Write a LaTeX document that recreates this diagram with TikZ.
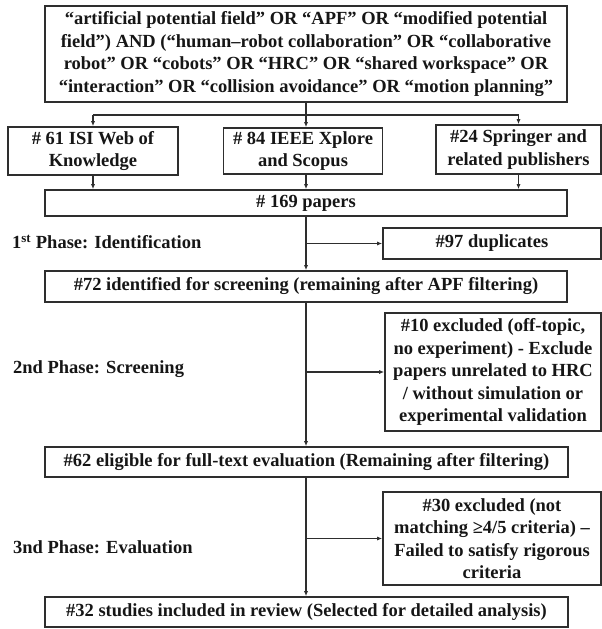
\documentclass[tikz,border=0pt]{standalone}
\usepackage{fontspec}
\setmainfont{Liberation Serif}
\usetikzlibrary{arrows.meta}
\definecolor{edgegray}{HTML}{2E2E2E}
\definecolor{inkdark}{HTML}{161616}
\newcommand\flowfont{\fontsize{18.5}{22.5}\selectfont\bfseries}
\begin{document}
\begin{tikzpicture}[x=1pt,y=-1pt,
  box/.style={draw=edgegray, line width=1.6pt, inner sep=0pt, align=center,
    font=\flowfont, text=inkdark},
  phase/.style={anchor=west, inner sep=0pt, font=\flowfont, text=inkdark},
  arr/.style={draw=edgegray, line width=1.4pt, -{Latex[length=5pt,width=4pt]}},
  link/.style={draw=edgegray, line width=1.4pt}]
\useasboundingbox (0,0) rectangle (602,629);

% search string
\node[box, minimum width=522, minimum height=96] (query) at (306,54)
  {“artificial potential field” OR “APF” OR “modified potential\\
   field”) AND (“human–robot collaboration” OR “collaborative\\
   robot” OR “cobots” OR “HRC” OR “shared workspace” OR\\
   “interaction” OR “collision avoidance” OR “motion planning”};

% databases
\node[box, minimum width=170, minimum height=48] (isi) at (93,151)
  {\# 61 ISI Web of\\Knowledge};
\node[box, minimum width=159, minimum height=46] (ieee) at (303,151)
  {\# 84 IEEE Xplore\\and Scopus};
\node[box, minimum width=165, minimum height=49] (spr) at (518.5,149.5)
  {\#24 Springer and\\related publishers};

% main column
\node[box, minimum width=522, minimum height=26] (all) at (306,203)
  {\# 169 papers};
\node[box, minimum width=522, minimum height=31] (scr) at (306,286.5)
  {\#72 identified for screening (remaining after APF filtering)};
\node[box, minimum width=523, minimum height=30] (elig) at (306.5,462)
  {\#62 eligible for full-text evaluation (Remaining after filtering)};
\node[box, minimum width=523, minimum height=30] (incl) at (306.5,612)
  {\#32 studies included in review (Selected for detailed analysis)};

% exclusions
\node[box, minimum width=218, minimum height=31] (dup) at (492,243.5)
  {\#97 duplicates};
\node[box, minimum width=216, minimum height=118] (ex10) at (493,372)
  {\#10 excluded (off-topic,\\no experiment) - Exclude\\papers unrelated to HRC\\
   / without simulation or\\experimental validation};
\node[box, minimum width=218, minimum height=93] (ex30) at (492,538.5)
  {\#30 excluded (not\\matching ≥4/5 criteria) –\\Failed to satisfy rigorous\\criteria};

% phase labels
\node[phase] (ph1) at (12,242) {1\textsuperscript{st} Phase: Identification};
\node[phase] (ph2) at (13,369) {2nd Phase: Screening};
\node[phase] (ph3) at (13,547) {3nd Phase: Evaluation};

% connectors
\coordinate (fork) at (306,115);
\draw[arr] (query.south) -- (query.south |- ieee.north);
\draw[link] (isi.north |- fork) -- (spr.north |- fork);
\draw[arr] (isi.north |- fork) -- (isi.north);
\draw[arr] (spr.north |- fork) -- (spr.north);

\draw[arr] (isi.south) -- (isi.south |- all.north);
\draw[arr] (ieee.south -| query.south) -- (query.south |- all.north);
\draw[arr] (spr.south) -- (spr.south |- all.north);

\draw[arr] (all.south) -- (all.south |- scr.north);
\draw[arr] (all.south |- dup.west) -- (dup.west);

\draw[arr] (scr.south) -- (scr.south |- elig.north);
\draw[arr] (scr.south |- ex10.west) -- (ex10.west);

\draw[arr] (scr.south |- elig.south) -- (scr.south |- incl.north);
\draw[arr] (scr.south |- ex30.west) -- (ex30.west);
\end{tikzpicture}
\end{document}
